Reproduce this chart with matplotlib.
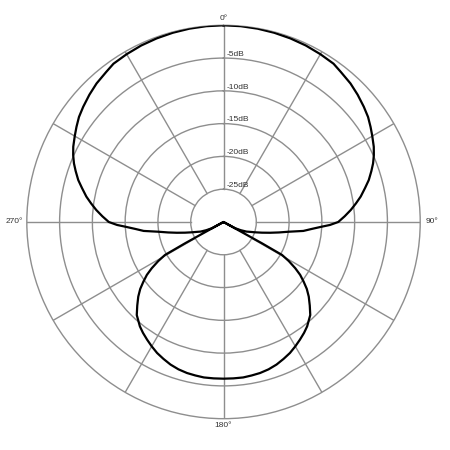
import numpy as np
import matplotlib
matplotlib.use("Agg")
import matplotlib.pyplot as plt

# polar response (right half, mirrored for the left)
# front lobe, down to the null
front_deg = [0, 5, 10, 15, 20, 25, 30, 34.8, 38, 42.5, 46.5, 50.6, 54, 57.1,
             60, 63.4, 66, 68.6, 71, 73.9, 76.5, 79.5, 82, 84.6, 87.3, 90,
             91.6, 92.7, 94.5, 96.4, 98.5, 100.7, 103, 105.5, 108, 110.5,
             112.7, 115.5, 118.1, 119]
front_db = [0.0, -0.02, -0.06, -0.12, -0.2, -0.3, -0.45, -0.6, -0.95, -1.34,
            -1.8, -2.31, -2.75, -3.29, -3.8, -4.37, -4.9, -5.5, -6.15, -6.94,
            -7.8, -8.72, -9.6, -10.5, -11.5, -12.5, -13.76, -14.96, -16.5,
            -17.75, -19.95, -21.4, -22.7, -23.9, -24.9, -25.7, -26.2, -27.1,
            -27.96, -30.0]
# rear lobe, from the null round to 180°
rear_deg = [119, 119.4, 120.9, 122.8, 124.6, 126.7, 128.8, 131.2, 134.1, 137,
            141.3, 144, 147, 150, 153.1, 156.3, 159.6, 163, 166.4, 169.6,
            172.8, 176.4, 180]
rear_db = [-23.3, -19.75, -18.4, -16.98, -15.8, -14.75, -13.7, -12.72, -11.68,
           -10.6, -9.6, -9.1, -8.6, -8.1, -7.6, -7.2, -6.8, -6.5, -6.3, -6.2,
           -6.1, -6.1, -6.1]

ring_db = [-25, -20, -15, -10, -5]
ring_labels = ["-25dB", "-20dB", "-15dB", "-10dB", "-5dB"]
spoke_deg = list(range(0, 360, 30))
angle_labels = ["0°", "90°", "180°", "270°"]

grid_col = "#8e8e8e"
text_col = "#333333"

plt.rcParams['font.family'] = ['Liberation Sans', 'DejaVu Sans']

fig = plt.figure(figsize=(4.5, 4.5), dpi=100)
ax = fig.add_axes([0.0596, 0.0696, 0.8742, 0.8742], projection="polar")
ax.set_theta_zero_location("N")
ax.set_theta_direction(-1)
ax.set_ylim(-30, 0)

ax.set_xticks([])
ax.set_yticks(ring_db)
ax.set_yticklabels([])
ax.yaxis.grid(True, color=grid_col, linewidth=1.0)
ax.xaxis.grid(False)
ax.tick_params(length=0)
ax.spines["polar"].set_color(grid_col)
ax.spines["polar"].set_linewidth(1.0)

for a in spoke_deg:
    t = np.deg2rad(a)
    ax.plot([t, t], [-25, 0], color=grid_col, linewidth=1.0, zorder=1)

# full curve: right half then mirrored left half
ang = np.array(front_deg + rear_deg, dtype=float)
lev = np.array(front_db + rear_db, dtype=float)
theta = np.deg2rad(np.concatenate([ang, 360 - ang[::-1]]))
r = np.concatenate([lev, lev[::-1]])
ax.plot(theta, r, color="black", linewidth=1.6, zorder=3,
        solid_joinstyle="round")

for d, lab in zip(ring_db, ring_labels):
    ax.annotate(lab, xy=(0, d), xytext=(2.2, 0.2), textcoords="offset points",
                ha="left", va="bottom", fontsize=6, color=text_col)

offsets = {"0°": (0, 5.2), "90°": (4, 0), "180°": (0, -5.2), "270°": (-3, 0)}
aligns = {"0°": "center", "90°": "left", "180°": "center", "270°": "right"}
for lab, a in zip(angle_labels, [0, 90, 180, 270]):
    ax.annotate(lab, xy=(np.deg2rad(a), 0), xytext=offsets[lab],
                textcoords="offset points", ha=aligns[lab], va="center",
                fontsize=6, color=text_col, annotation_clip=False)

fig.savefig("out.png", dpi=100, facecolor="white")
